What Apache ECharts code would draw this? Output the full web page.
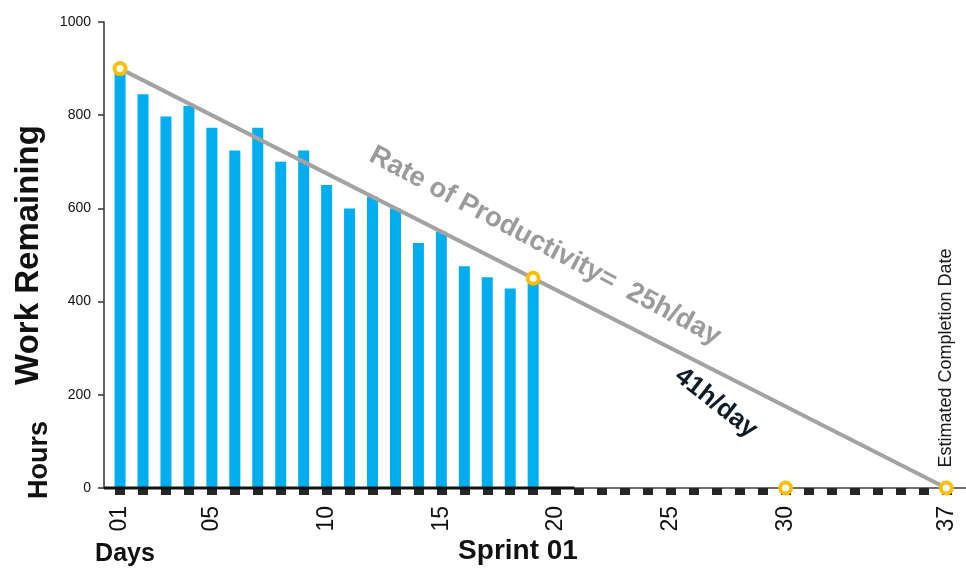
<!DOCTYPE html>
<html>
<head>
<meta charset="utf-8">
<script src="https://cdn.jsdelivr.net/npm/echarts@6/dist/echarts.min.js"></script>
<style>
  html, body { margin: 0; padding: 0; background: #fff; }
  #chart { width: 966px; height: 568px; }
</style>
</head>
<body>
<div id="chart"></div>
<script>
// Sprint burndown: remaining hours per day
const days = [1, 2, 3, 4, 5, 6, 7, 8, 9, 10, 11, 12, 13, 14, 15, 16, 17, 18, 19];
const remaining = [890, 845, 797, 820, 773, 724, 773, 700, 724, 650, 600, 625, 600, 526, 550, 476, 452, 428, 450];

// Ideal productivity line (25h/day) and highlighted milestones
const rateLine = [[1, 900], [37, 0]];
const milestones = [[1, 900], [19, 450], [30, 0], [37, 0]];

// Elapsed part of the sprint on the baseline
const elapsedSpan = [[0.3, 0], [20.8, 0]];

// Axis ticks and labels
const tickDays = [1, 2, 3, 4, 5, 6, 7, 8, 9, 10, 11, 12, 13, 14, 15, 16, 17, 18, 19, 20,
  21, 22, 23, 24, 25, 26, 27, 28, 29, 30, 31, 32, 33, 34, 35, 36, 37];
const labelDays = [1, 5, 10, 15, 20, 25, 30, 37];
const labelText = ['01', '05', '10', '15', '20', '25', '30', '37'];

const FONT = 'Liberation Sans, Arial, Helvetica, sans-serif';

const chart = echarts.init(document.getElementById('chart'));
chart.setOption({
  animation: false,
  grid: { left: 104, right: 0, top: 22, bottom: 80, containLabel: false },
  xAxis: {
    type: 'value',
    min: 0.3,
    max: 37.86,
    splitLine: { show: false },
    axisLine: { show: true, lineStyle: { color: '#6e6e6e', width: 2 } },
    axisTick: {
      show: true,
      customValues: tickDays,
      length: 7,
      lineStyle: { color: '#262626', width: 10 }
    },
    axisLabel: {
      customValues: labelDays,
      rotate: 90,
      margin: 18,
      fontFamily: FONT,
      fontSize: 23,
      color: '#111',
      formatter: function (v) {
        const i = labelDays.indexOf(v);
        return i >= 0 ? labelText[i] : '';
      }
    }
  },
  yAxis: {
    type: 'value',
    min: 0,
    max: 1000,
    interval: 200,
    splitLine: { show: false },
    axisLine: { show: true, lineStyle: { color: '#333', width: 1.5 } },
    axisTick: { show: true, length: 6, lineStyle: { color: '#333', width: 1.5 } },
    axisLabel: {
      margin: 13, fontFamily: FONT, fontSize: 14, color: '#111',
      formatter: function (v) { return String(v); }
    }
  },
  series: [
    {
      type: 'bar',
      data: days.map((d, i) => [d, remaining[i]]),
      barWidth: 11,
      itemStyle: { color: '#00AEEF' },
      z: 2
    },
    {
      type: 'line',
      data: elapsedSpan,
      symbol: 'none',
      clip: false,
      lineStyle: { color: '#111', width: 3 },
      z: 2
    },
    {
      type: 'line',
      data: rateLine,
      symbol: 'none',
      lineStyle: { color: '#a3a3a3', width: 4 },
      z: 3
    },
    {
      type: 'scatter',
      data: milestones,
      symbol: 'circle',
      symbolSize: 11,
      clip: false,
      itemStyle: { color: '#fff', borderColor: '#FDBE0A', borderWidth: 4, opacity: 1 },
      z: 4
    }
  ],
  graphic: [
    {
      type: 'text', x: 29, y: 255, rotation: Math.PI / 2,
      style: { text: 'Work Remaining', font: 'bold 33px ' + FONT, fill: '#111', align: 'center', verticalAlign: 'middle' }
    },
    {
      type: 'text', x: 40, y: 460, rotation: Math.PI / 2,
      style: { text: 'Hours', font: 'bold 27px ' + FONT, fill: '#111', align: 'center', verticalAlign: 'middle' }
    },
    {
      type: 'text', x: 125, y: 554,
      style: { text: 'Days', font: 'bold 25px ' + FONT, fill: '#111', align: 'center', verticalAlign: 'middle' }
    },
    {
      type: 'text', x: 518, y: 551,
      style: { text: 'Sprint 01', font: 'bold 28px ' + FONT, fill: '#111', align: 'center', verticalAlign: 'middle' }
    },
    {
      type: 'text', x: 545, y: 246, rotation: -28 * Math.PI / 180,
      style: { text: 'Rate of Productivity=  25h/day', font: 'bold 27.5px ' + FONT, fill: '#9b9b9b', align: 'center', verticalAlign: 'middle' }
    },
    {
      type: 'text', x: 716, y: 403, rotation: -38 * Math.PI / 180,
      style: { text: '41h/day', font: 'bold 26px ' + FONT, fill: '#0f1c28', align: 'center', verticalAlign: 'middle' }
    },
    {
      type: 'text', x: 946, y: 358, rotation: Math.PI / 2,
      style: { text: 'Estimated Completion Date', font: '18px ' + FONT, fill: '#1a1a1a', align: 'center', verticalAlign: 'middle' }
    }
  ]
});
</script>
</body>
</html>
